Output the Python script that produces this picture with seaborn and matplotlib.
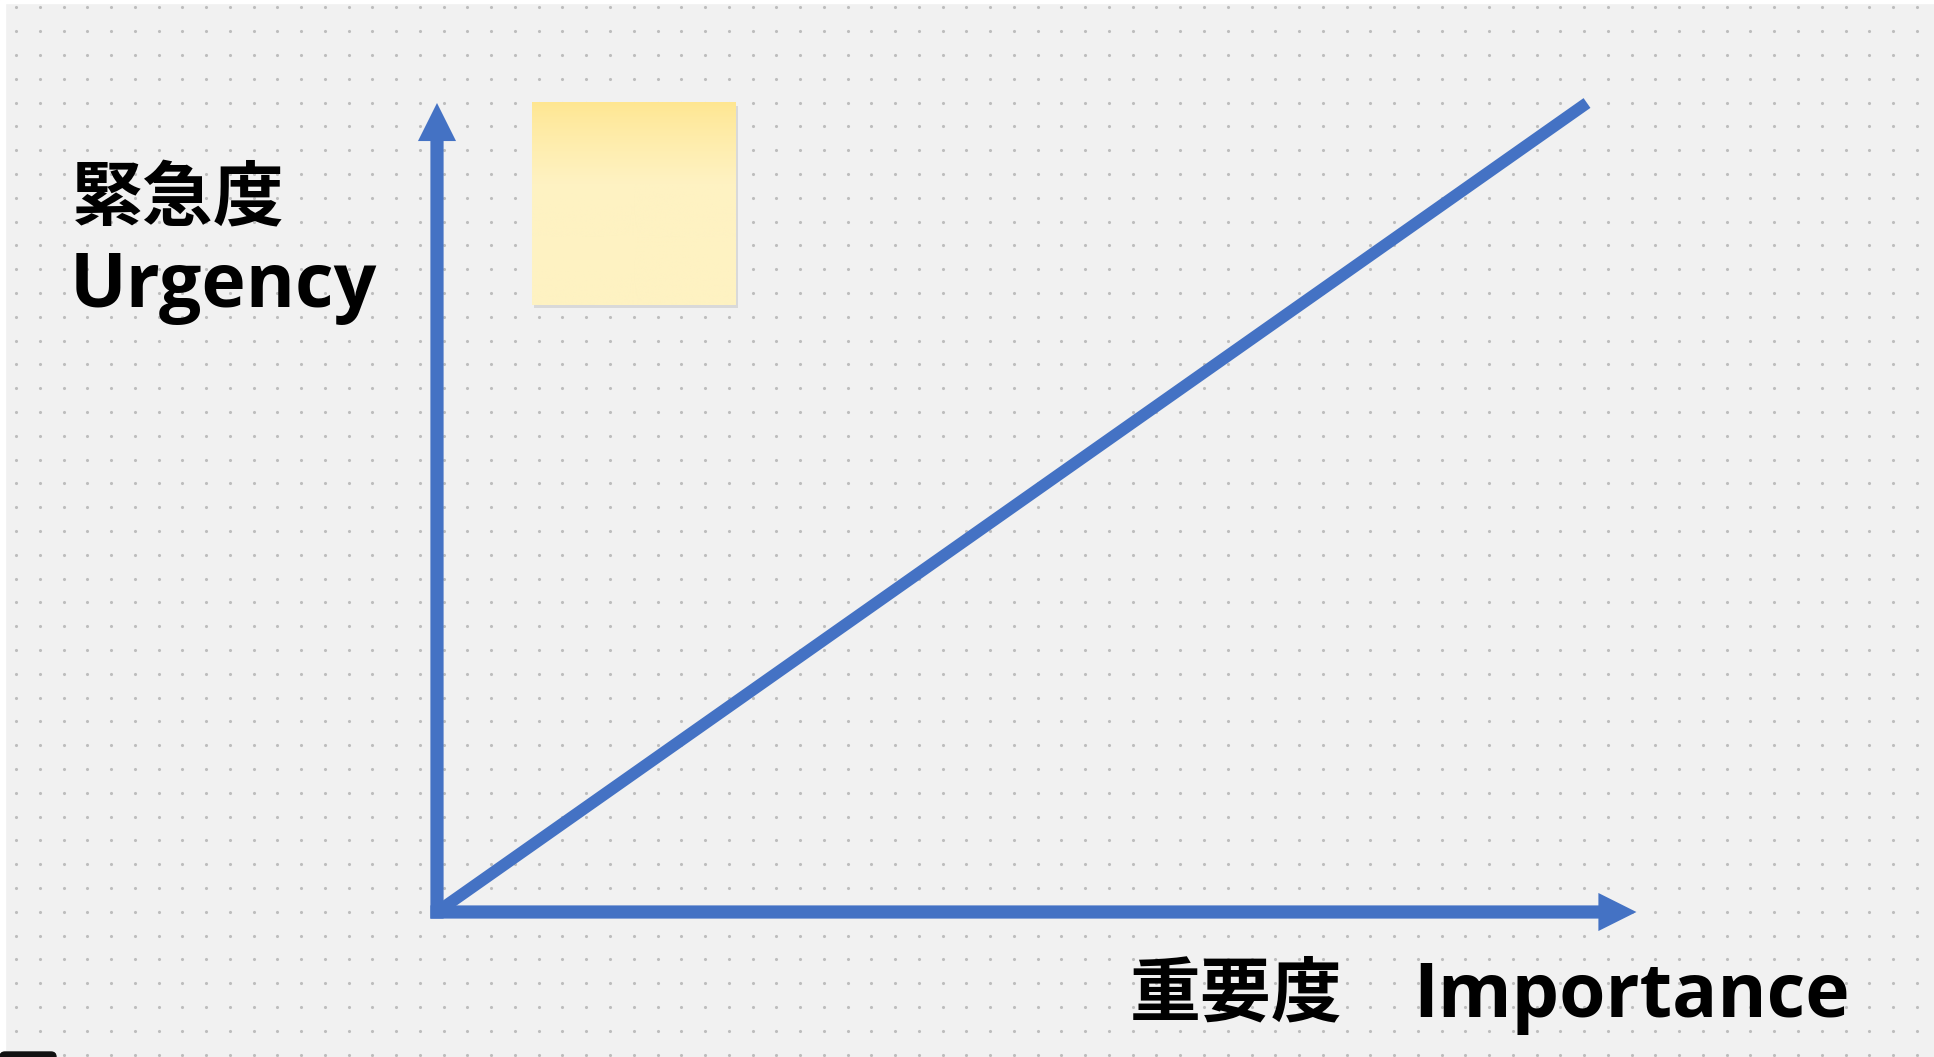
import numpy as np
import matplotlib.pyplot as plt
import seaborn as sns
from matplotlib.patches import FancyArrowPatch, Rectangle, FancyBboxPatch
from matplotlib.colors import to_rgb

# importance / urgency diagram (1.0 = length of the diagonal)
importance = [0.0, 1.0]
urgency = [0.0, 1.0]
x_axis_end = 1.043
y_axis_end = 1.0
note_x = [0.083, 0.26]
note_y = [0.75, 1.0]

y_label = ['緊急度', 'Urgency']
x_label = ['重要度', 'Importance']

BLUE = '#4472c4'
W, H, DPI = 1934, 1057, 100
SX, SY = 1150, 809          # pixels per unit
OX, OY = 437, 912           # origin in pixels (from top-left)

sns.set_style('white')
plt.rcParams['font.family'] = ['Open Sans', 'Noto Sans CJK JP', 'DejaVu Sans']

fig = plt.figure(figsize=(W / DPI, H / DPI), dpi=DPI, facecolor='#f1f1f1')

# dotted paper, pixel coords
bg = fig.add_axes([0, 0, 1, 1])
bg.set_xlim(0, W)
bg.set_ylim(H, 0)
bg.axis('off')
gx, gy = np.meshgrid(np.arange(16, W, 23.76), np.arange(7.3, H, 23.8))
sns.scatterplot(x=gx.ravel(), y=gy.ravel(), s=5, color='#bdbdbd',
                linewidth=0, ax=bg, legend=False)
bg.add_patch(Rectangle((0, 0), W, 3, color='white'))
bg.add_patch(Rectangle((0, 0), 5, H, color='white'))
bg.add_patch(FancyBboxPatch((0, 1052), 56, 12, boxstyle='round,pad=0,rounding_size=5',
                            color='#111111'))

cjk = dict(fontsize=51, weight='bold', color='black', va='baseline',
           family=['Noto Sans CJK JP', 'DejaVu Sans'])
lat = dict(fontsize=54, weight='bold', color='black', va='baseline',
           family=['Open Sans', 'DejaVu Sans'])
bg.text(72, 220, y_label[0], **cjk)
bg.text(70, 307, y_label[1], **lat)
bg.text(1130, 1015, x_label[0], **cjk)
bg.text(1413, 1017, x_label[1], **lat)

# the diagram itself
ax = fig.add_axes([0, 0, 1, 1])
ax.patch.set_alpha(0)
ax.axis('off')

# sticky note
top, bot = np.array(to_rgb('#ffe690')), np.array(to_rgb('#fef2c2'))
t = np.clip(np.linspace(0, 1, 200) / 0.4, 0, 1) ** 0.8
grad = (top[None, :] * (1 - t[:, None]) + bot[None, :] * t[:, None])[:, None, :]
ax.add_patch(Rectangle((note_x[0] + 1.5 / SX, note_y[0] - 2.5 / SY),
                       note_x[1] - note_x[0], note_y[1] - note_y[0],
                       color='#d9d9d9', lw=0, zorder=1))
ax.imshow(grad, extent=(note_x[0], note_x[1], note_y[0], note_y[1]),
          aspect='auto', zorder=2)

sns.lineplot(x=importance, y=urgency, ax=ax, color=BLUE, linewidth=8.6,
             solid_capstyle='butt', zorder=3)

style = 'simple,head_length=2.74,head_width=2.74,tail_width=0.95'
half_x, half_y = 6.6 / SX, 6.6 / SY
for a, b in [((-half_x, 0), (x_axis_end, 0)), ((0, -half_y), (0, y_axis_end))]:
    ax.add_patch(FancyArrowPatch(a, b, arrowstyle=style, mutation_scale=10,
                                 color=BLUE, lw=0, shrinkA=0, shrinkB=0, zorder=4))

ax.set_xlim(-OX / SX, (W - OX) / SX)
ax.set_ylim(-(H - OY) / SY, OY / SY)

fig.savefig('out.png', dpi=DPI, facecolor=fig.get_facecolor())
